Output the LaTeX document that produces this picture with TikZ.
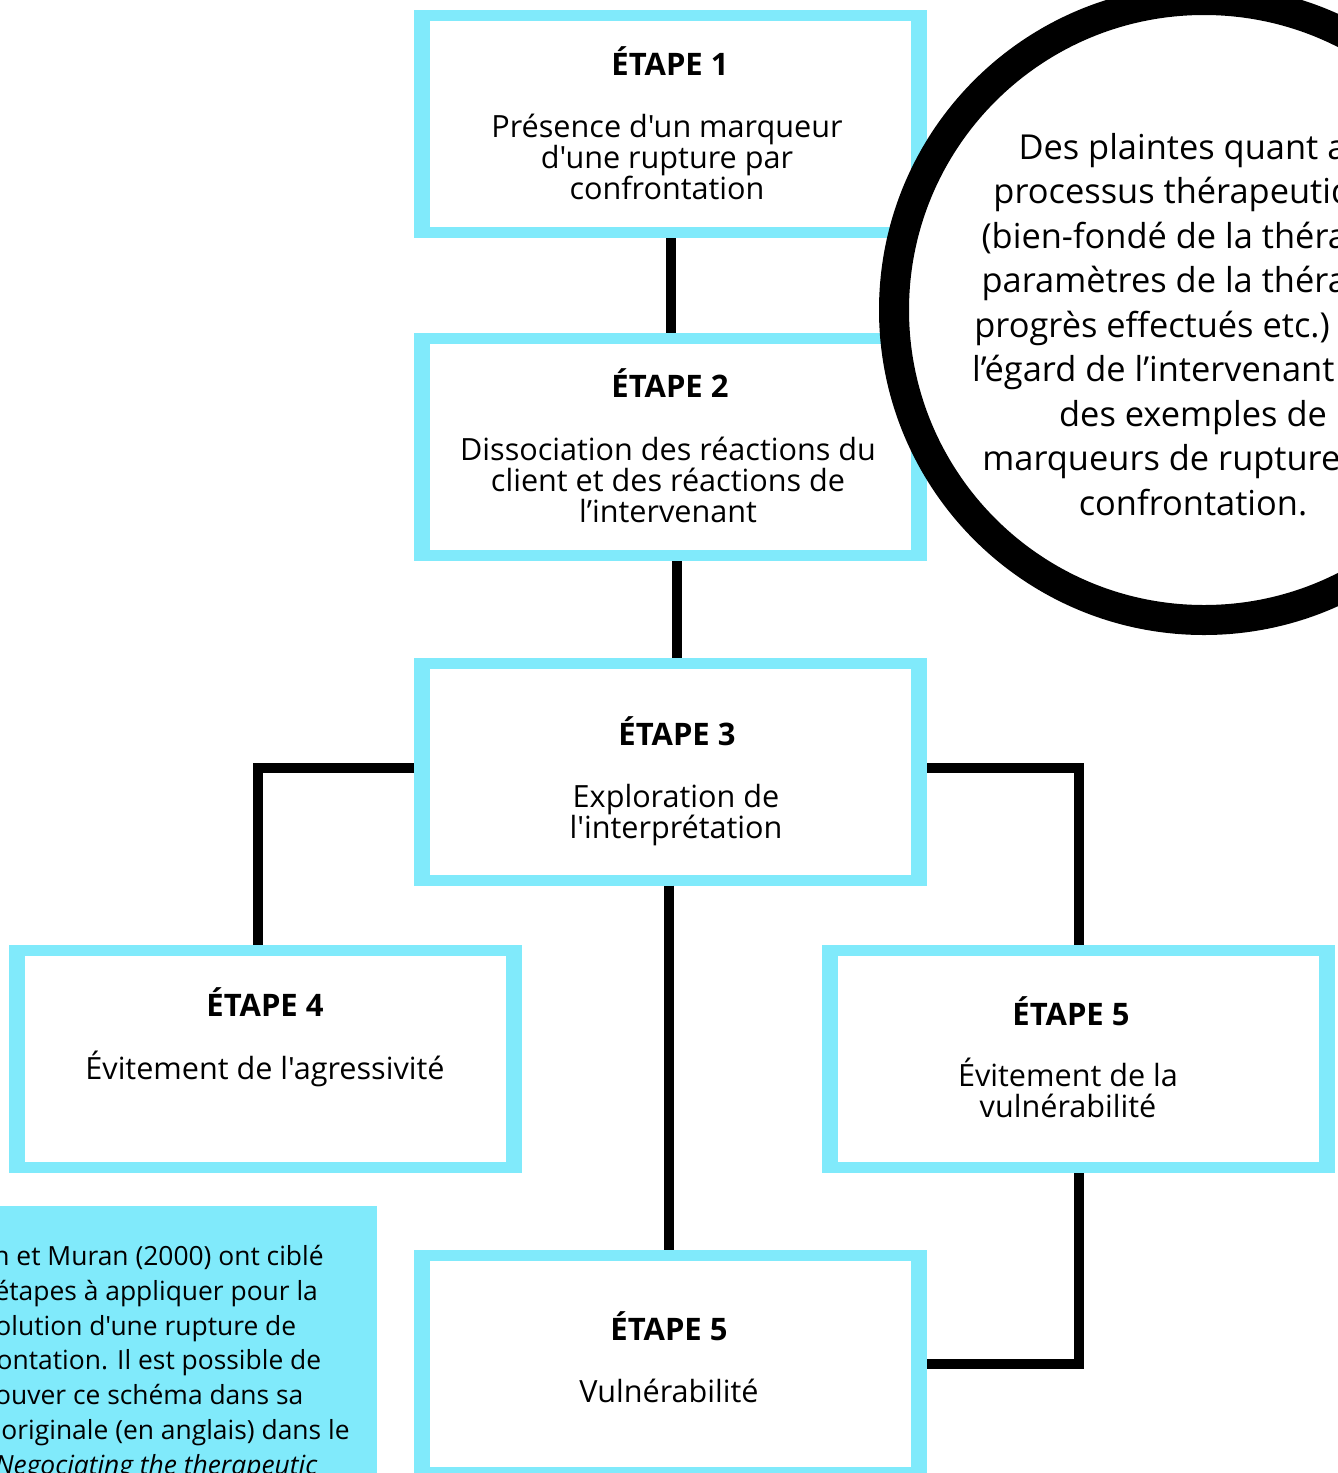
\documentclass[tikz,border=0pt]{standalone}
\usepackage{fontspec}
\setmainfont{Open Sans}[Ligatures=TeXOff]
\definecolor{cy}{RGB}{128,234,251}
\begin{document}
\begin{tikzpicture}[x=0.5pt,y=-0.5pt,
  stepbox/.style={rectangle, fill=cy, inner sep=0pt, outer sep=0pt,
    minimum width=256.5pt, minimum height=114pt,
    path picture={\fill[white] ([xshift=8pt,yshift=-5.5pt]path picture bounding box.north west)
      rectangle ([xshift=-8pt,yshift=5.5pt]path picture bounding box.south east);}},
  conn/.style={line width=5pt, draw=black},
  ttl/.style={anchor=base, inner sep=0pt, font=\fontsize{15.5pt}{17pt}\selectfont\bfseries},
  bodytxt/.style={anchor=base, align=center, inner sep=0pt, font=\fontsize{15.3pt}{15.5pt}\selectfont},
  circtxt/.style={anchor=base, align=center, inner sep=0pt, font=\fontsize{17.2pt}{22.25pt}\selectfont},
  notetxt/.style={anchor=base, align=center, inner sep=0pt, font=\fontsize{13.2pt}{17.35pt}\selectfont},
]
\useasboundingbox (0,0) rectangle (1338,1473);
\clip (0,0) rectangle (1338,1473);
\fill[white] (0,0) rectangle (1338,1473);

% boxes
\node[stepbox] (b1) at (670.5,124) {};
\node[stepbox] (b2) at (670.5,447) {};
\node[stepbox] (b3) at (670.5,771.5) {};
\node[stepbox] (b4) at (265.5,1059) {};
\node[stepbox] (b5) at (1078.5,1059) {};
\node[stepbox] (b6) at (670.5,1364) {};

% connectors
\draw[conn] (b1.south) -- (b2.north);
\draw[conn] ([xshift=3.25pt]b2.south) -- ([xshift=3.25pt]b3.north);
\draw[conn] ([yshift=1.75pt]b3.west) -| ([xshift=-3.75pt]b4.north);
\draw[conn] ([yshift=1.75pt]b3.east) -| (b5.north);
\draw[conn] ([xshift=-0.75pt]b3.south) -- ([xshift=-0.75pt]b6.north);
\draw[conn] (b5.south) |- (b6.east);

% box texts (multi-line nodes: base = last line)
\node[ttl] (t1) at (670,75) {ÉTAPE 1};
\node[bodytxt] (d1) at (667,199) {Présence d'un marqueur\\d'une rupture par\\confrontation};
\node[ttl] (t2) at (670,397) {ÉTAPE 2};
\node[bodytxt] (d2) at (668,522) {Dissociation des réactions du\\client et des réactions de\\l’intervenant};
\node[ttl] (t3) at (677,745) {ÉTAPE 3};
\node[bodytxt] (d3) at (676,838) {Exploration de\\l'interprétation};
\node[ttl] (t4) at (265,1016) {ÉTAPE 4};
\node[bodytxt] (d4) at (265,1079) {Évitement de l'agressivité};
\node[ttl] (t5) at (1071,1025) {ÉTAPE 5};
\node[bodytxt] (d5) at (1068,1117) {Évitement de la\\vulnérabilité};
\node[ttl] (t6) at (669,1340) {ÉTAPE 5};
\node[bodytxt] (d6) at (669,1402) {Vulnérabilité};

% circle
\draw[line width=15pt, fill=white] (1204,310) circle[radius=155pt];
\node[circtxt] (ctext) at (1193,515) {Des plaintes quant au\\processus thérapeutique\\(bien-fondé de la thérapie,\\paramètres de la thérapie,\\progrès effectués etc.) ou à\\l’égard de l’intervenant sont\\des exemples de\\marqueurs de rupture par\\confrontation.};

% note box
\fill[cy] (-20,1206) rectangle (377,1490);
\node[notetxt] (note) at (127,1474) {Safran et Muran (2000) ont ciblé\\cinq étapes à appliquer pour la\\résolution d'une rupture de\\confrontation. Il est possible de\\retrouver ce schéma dans sa\\version originale (en anglais) dans le\\livre \textit{Negociating the therapeutic}};
\end{tikzpicture}
\end{document}
